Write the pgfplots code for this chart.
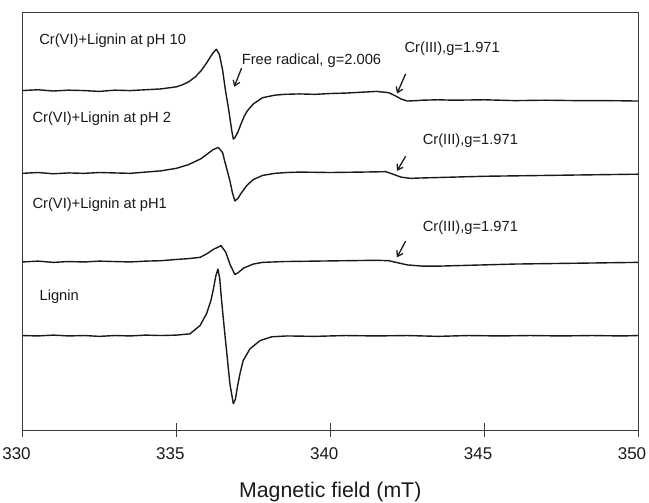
\documentclass[border=0pt]{standalone}
\usepackage{pgfplots}
\pgfplotsset{compat=1.18}
\usetikzlibrary{arrows.meta}
\usepackage{fontspec}
\setmainfont{Liberation Sans}
\definecolor{ink}{HTML}{1A1A1A}
\definecolor{frame}{HTML}{3C3C3C}

% EPR spectra, field in mT, signal in arbitrary offset units (0..100)
\pgfplotstableread{
x y
330.0 81.2
330.5 81.4
331.0 81.1
331.5 81.3
332.0 81.2
332.5 81.0
333.0 81.3
333.5 81.2
334.0 81.4
334.5 81.6
334.8 81.9
335.0 82.1
335.2 82.6
335.4 83.3
335.6 84.4
335.8 85.9
336.0 88.0
336.1 89.2
336.2 90.3
336.3 91.1
336.4 89.8
336.5 86.2
336.6 81.0
336.7 76.6
336.8 71.6
336.85 69.6
336.9 69.9
337.0 71.3
337.1 73.2
337.2 75.0
337.3 76.3
337.5 78.0
337.8 79.5
338.2 80.1
338.5 80.3
339.0 80.4
339.5 80.3
340.0 80.5
340.5 80.6
341.0 80.8
341.5 81.0
341.9 80.7
342.1 80.0
342.3 79.2
342.5 78.7
342.8 78.8
343.0 78.9
343.5 79.0
344.0 78.9
345.0 79.0
346.0 78.8
347.0 78.9
348.0 78.8
349.0 78.8
350.0 78.7
}\phten

\pgfplotstableread{
x y
330.0 61.4
330.5 61.6
331.0 61.3
331.5 61.5
332.0 61.4
332.5 61.6
333.0 61.5
333.5 61.4
334.0 61.7
334.5 62.0
335.0 62.6
335.4 63.5
335.8 64.9
336.0 66.0
336.2 67.1
336.36 67.6
336.5 66.4
336.6 63.5
336.74 59.6
336.82 56.8
336.9 54.8
337.0 55.4
337.1 56.6
337.3 58.6
337.5 59.9
337.8 60.9
338.2 61.4
338.6 61.6
339.0 61.7
340.0 61.6
341.0 61.7
341.8 61.8
342.0 61.3
342.3 60.5
342.6 60.2
343.0 60.3
343.5 60.4
344.0 60.5
345.0 60.7
346.0 60.8
347.0 60.9
348.0 61.0
349.0 61.1
350.0 61.2
}\phtwo

\pgfplotstableread{
x y
330.0 40.2
330.5 40.4
331.0 40.1
331.5 40.3
332.0 40.2
332.5 40.4
333.0 40.3
333.5 40.2
334.0 40.4
334.5 40.5
335.0 40.8
335.4 41.0
335.77 41.3
336.0 42.2
336.2 43.2
336.45 44.1
336.6 42.6
336.75 39.5
336.9 37.2
337.0 37.6
337.2 38.8
337.5 39.7
337.8 40.1
338.5 40.3
339.5 40.4
340.5 40.5
341.5 40.6
341.9 40.5
342.2 40.0
342.5 39.5
343.0 39.2
343.5 39.2
344.0 39.3
345.0 39.5
346.0 39.7
347.0 39.8
348.0 39.9
349.0 40.0
350.0 40.1
}\phone

\pgfplotstableread{
x y
330.0 22.6
330.5 22.5
331.0 22.7
331.5 22.5
332.0 22.6
332.5 22.4
333.0 22.6
333.5 22.5
334.0 22.7
334.5 22.6
335.0 22.7
335.44 23.0
335.77 25.0
335.98 27.8
336.12 30.9
336.2 33.6
336.28 36.8
336.35 38.5
336.41 36.2
336.47 30.9
336.55 24.8
336.63 19.0
336.74 11.0
336.85 6.3
336.92 7.4
336.98 10.2
337.07 13.6
337.17 16.6
337.39 19.4
337.72 21.4
338.1 22.3
338.6 22.5
339.5 22.4
340.5 22.6
341.5 22.5
342.5 22.6
343.5 22.4
344.5 22.6
345.5 22.5
346.5 22.6
347.5 22.5
348.5 22.6
349.5 22.5
350.0 22.6
}\lignin

\begin{document}
\begin{tikzpicture}
\useasboundingbox (-22.5pt,-73pt) rectangle (626.5pt,430pt);
\begin{axis}[
  at={(0,0)}, anchor=south west,
  scale only axis, width=615.5pt, height=418pt,
  xmin=330, xmax=350, ymin=0, ymax=100,
  xtick={330,335,340,345,350},
  xtick pos=left, xtick align=center,
  major tick length=14pt,
  ytick=\empty,
  axis line style={frame, line width=0.9pt},
  every tick/.style={frame, line width=0.9pt},
  /pgf/number format/assume math mode=true,
  /pgf/number format/1000 sep={},
  xticklabel style={font=\fontsize{17}{20}\selectfont, text=ink, yshift=-7pt, xshift=-6pt},
  xlabel={Magnetic field (mT)},
  xlabel style={font=\fontsize{21.3}{24}\selectfont, text=ink, yshift=-16pt},
  clip=false,
]
\addplot[ink, line width=1.4pt, line join=round, mark=none] table {\phten};
\addplot[ink, line width=1.4pt, line join=round, mark=none] table {\phtwo};
\addplot[ink, line width=1.4pt, line join=round, mark=none] table {\phone};
\addplot[ink, line width=1.4pt, line join=round, mark=none] table {\lignin};

\begin{scope}[every node/.style={anchor=west, inner sep=0pt, text=ink, font=\fontsize{14.7}{16}\selectfont}]
\node at (axis cs:330.54,93.1) {Cr(VI)+Lignin at pH 10};
\node at (axis cs:330.32,74.4) {Cr(VI)+Lignin at pH 2};
\node at (axis cs:330.32,53.9) {Cr(VI)+Lignin at pH1};
\node at (axis cs:330.55,31.9) {Lignin};
\node at (axis cs:337.12,88.3) {Free radical, g=2.006};
\node at (axis cs:342.41,91.2) {Cr(III),g=1.971};
\node at (axis cs:343.0,69.2) {Cr(III),g=1.971};
\node at (axis cs:343.0,48.3) {Cr(III),g=1.971};
\end{scope}

\begin{scope}[ink, line width=1.3pt, -{Straight Barb[length=5pt,width=7pt]}]
\draw (axis cs:337.12,86.6) -- (axis cs:336.88,82.1);
\draw (axis cs:342.45,85.2) -- (axis cs:342.17,80.5);
\draw (axis cs:342.45,65.5) -- (axis cs:342.17,62.0);
\draw (axis cs:342.45,45.2) -- (axis cs:342.17,41.3);
\end{scope}
\end{axis}
\end{tikzpicture}
\end{document}
